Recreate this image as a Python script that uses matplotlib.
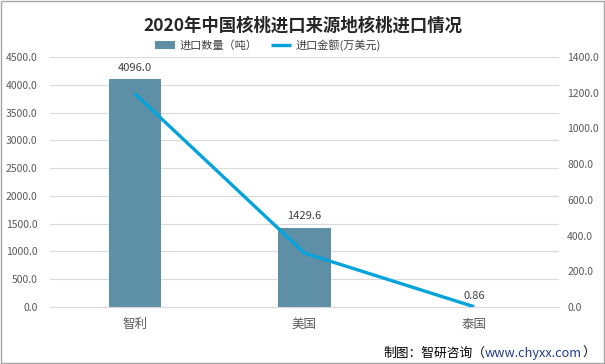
import matplotlib.pyplot as plt
from matplotlib.patches import Rectangle

plt.rcParams['font.family'] = ['Noto Sans CJK SC', 'DejaVu Sans']

countries = ["智利", "美国", "泰国"]
quantity = [4096.0, 1429.6, 0.86]        # 进口数量（吨）
amount = [1195.0, 302.0, 1.5]            # 进口金额(万美元)
qty_labels = ["4096.0", "1429.6", "0.86"]
left_ticks = [0, 500, 1000, 1500, 2000, 2500, 3000, 3500, 4000, 4500]
right_ticks = [0, 200, 400, 600, 800, 1000, 1200, 1400]

bar_color = "#5D8FA6"
line_color = "#05A3DC"
tick_color = "#595959"

fig = plt.figure(figsize=(6.05, 3.64), dpi=100)
ax = fig.add_axes([0.0826, 0.1566, 0.8413, 0.6868])
ax2 = ax.twinx()

x = list(range(len(countries)))
bars = ax.bar(x, quantity, width=0.31, color=bar_color, label="进口数量（吨）", zorder=2)
line, = ax2.plot(x, amount, color=line_color, linewidth=2.4, label="进口金额(万美元)",
                 solid_capstyle="butt", zorder=3)

ax.set_xlim(-0.5, len(countries) - 0.5)
ax.set_ylim(0, 4500)
ax2.set_ylim(0, 1400)
ax.set_yticks(left_ticks)
ax.set_yticklabels([f"{v:.1f}" for v in left_ticks])
ax2.set_yticks(right_ticks)
ax2.set_yticklabels([f"{v:.1f}" for v in right_ticks])
ax.set_xticks(x)
ax.set_xticklabels(countries)

ax.grid(axis="y", color="#D9D9D9", linewidth=0.8, zorder=0)
ax.set_axisbelow(True)
for a in (ax, ax2):
    for s in a.spines.values():
        s.set_visible(False)
ax.spines["bottom"].set_visible(True)
ax.spines["bottom"].set_color("#D9D9D9")

ax.tick_params(axis="y", length=0, pad=9, labelsize=7.5, labelcolor=tick_color)
ax2.tick_params(axis="y", length=0, pad=6, labelsize=7.5, labelcolor=tick_color)
ax.tick_params(axis="x", length=0, pad=8, labelsize=9, labelcolor=tick_color)

for xi, q, lab in zip(x, quantity, qty_labels):
    ax.text(xi, q + 110, lab, ha="center", va="bottom", fontsize=8, color="#404040")

fig.text(0.5, 0.93, "2020年中国核桃进口来源地核桃进口情况", ha="center", va="center",
         fontsize=12.5, fontweight="bold", color="#262626")

fig.legend(handles=[bars, line], loc="center", bbox_to_anchor=(0.443, 0.876), ncol=2,
           frameon=False, fontsize=8, handlelength=1.8, columnspacing=1.3,
           handletextpad=0.4, labelcolor="#404040")

t1 = fig.text(0.633, 0.012, "制图：智研咨询（", ha="left", va="bottom", fontsize=9.2, color="black")
t2 = ax.annotate("www.chyxx.com", xy=(1, 0), xycoords=t1, ha="left", va="bottom",
                 fontsize=9.2, color="#1F3C88", annotation_clip=False)
ax.annotate("）", xy=(1, 0), xycoords=t2, ha="left", va="bottom",
            fontsize=9.2, color="black", annotation_clip=False)

fig.patches.append(Rectangle((0.001, 0.002), 0.997, 0.995, transform=fig.transFigure,
                             fill=False, edgecolor="#A6A6A6", linewidth=1))

fig.savefig("out.png", dpi=100)
